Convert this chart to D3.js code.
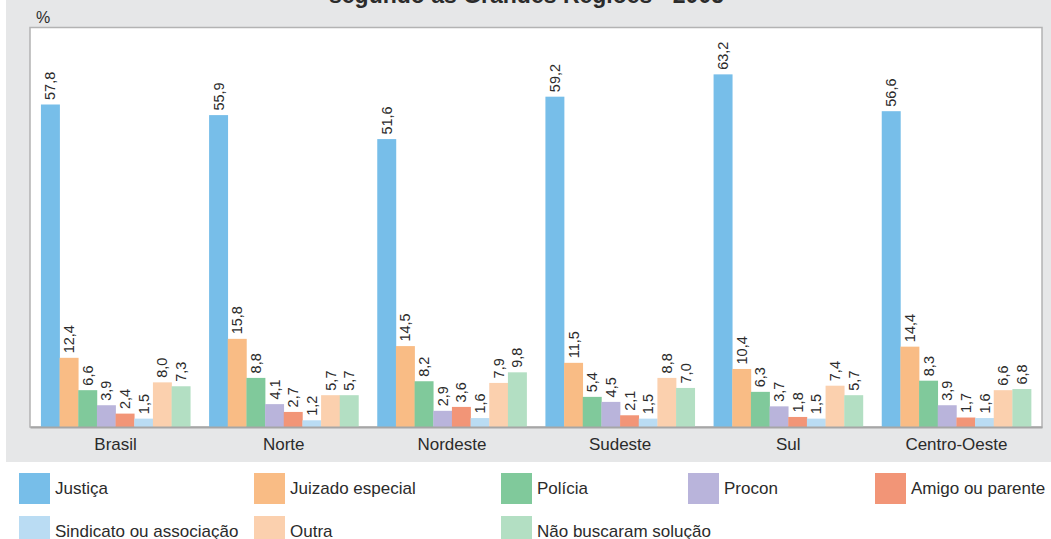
<!DOCTYPE html>
<html><head><meta charset="utf-8">
<script src="https://cdn.jsdelivr.net/npm/d3@7"></script>
<style>body{margin:0;background:#fff;}svg{display:block;font-family:"Liberation Sans",Arial,sans-serif;}</style>
</head><body>
<svg id="chart" width="1051" height="539"></svg>
<script>
const regions = ["Brasil","Norte","Nordeste","Sudeste","Sul","Centro-Oeste"];
const seriesNames = ["Justiça","Juizado especial","Polícia","Procon","Amigo ou parente","Sindicato ou associação","Outra","Não buscaram solução"];
const justica      = [57.8, 55.9, 51.6, 59.2, 63.2, 56.6];
const juizado      = [12.4, 15.8, 14.5, 11.5, 10.4, 14.4];
const policia      = [6.6, 8.8, 8.2, 5.4, 6.3, 8.3];
const procon       = [3.9, 4.1, 2.9, 4.5, 3.7, 3.9];
const amigo        = [2.4, 2.7, 3.6, 2.1, 1.8, 1.7];
const sindicato    = [1.5, 1.2, 1.6, 1.5, 1.5, 1.6];
const outra        = [8.0, 5.7, 7.9, 8.8, 7.4, 6.6];
const naoBuscaram  = [7.3, 5.7, 9.8, 7.0, 5.7, 6.8];
const colors = ["#77bee9","#f9bc85","#80c99b","#b9b4db","#f29577","#badcf3","#fbd0ae","#b3dfc3"];

(function(){
const seriesValues = [justica, juizado, policia, procon, amigo, sindicato, outra, naoBuscaram];
const svg = d3.select("#chart");
const textColor = "#2b2b2b";

svg.append("rect").attr("x",6).attr("y",0).attr("width",1045).attr("height",462).attr("fill","#e6e7e8");

svg.append("text").attr("x",526.5).attr("y",3).attr("text-anchor","middle")
  .attr("font-size",23).attr("font-weight","bold").attr("fill",textColor)
  .text("segundo as Grandes Regiões - 2005");

svg.append("text").attr("x",36).attr("y",23).attr("font-size",16).attr("fill",textColor).text("%");

const pLeft=30, pRight=1042, pTop=27.5, pBottom=427;
svg.append("rect").attr("x",pLeft).attr("y",pTop).attr("width",pRight-pLeft).attr("height",pBottom-pTop)
  .attr("fill","#fff").attr("stroke","#b3b3b3").attr("stroke-width",1.5);

const x0 = d3.scaleBand().domain(regions).range([pLeft,pRight]).paddingInner(0.112).paddingOuter(0.065);
const x1 = d3.scaleBand().domain(seriesNames).range([0,x0.bandwidth()]);
const y = d3.scaleLinear().domain([0,71.6]).range([pBottom,pTop]);

const data = [];
regions.forEach((r,i)=>seriesNames.forEach((s,j)=>data.push({r,s,j,v:seriesValues[j][i]})));

const g = svg.append("g");
g.selectAll("rect.bar").data(data).enter().append("rect").attr("class","bar")
  .attr("x",d=>x0(d.r)+x1(d.s)).attr("width",x1.bandwidth()+0.3)
  .attr("y",d=>y(d.v)).attr("height",d=>pBottom-y(d.v))
  .attr("fill",d=>colors[d.j]);

g.selectAll("text.val").data(data).enter().append("text").attr("class","val")
  .attr("transform",d=>`translate(${x0(d.r)+x1(d.s)+x1.bandwidth()/2},${y(d.v)-4.5}) rotate(-90)`)
  .attr("dy","0.36em").attr("font-size",14.5).attr("fill",textColor)
  .text(d=>d.v.toFixed(1).replace(".",","));

const xAxis = d3.axisBottom(x0).tickSize(0).tickPadding(10);
const ax = svg.append("g").attr("transform",`translate(0,${pBottom})`).call(xAxis);
ax.select(".domain").attr("stroke","#a6a6a6").attr("stroke-width",2);
ax.selectAll("text").attr("font-size",17).attr("fill",textColor).attr("dy",0).attr("y",23)
  .attr("font-family","'Liberation Sans',Arial,sans-serif");

const legX = [19,254,501,688,875,19,254,501];
const legY = [473,473,473,473,473,516,516,516];
const leg = svg.append("g");
seriesNames.forEach((s,i)=>{
  leg.append("rect").attr("x",legX[i]).attr("y",legY[i]).attr("width",31).attr("height",31).attr("fill",colors[i]);
  leg.append("text").attr("x",legX[i]+36).attr("y",legY[i]+21).attr("font-size",17).attr("fill",textColor).text(s);
});
})();
</script>
</body></html>
